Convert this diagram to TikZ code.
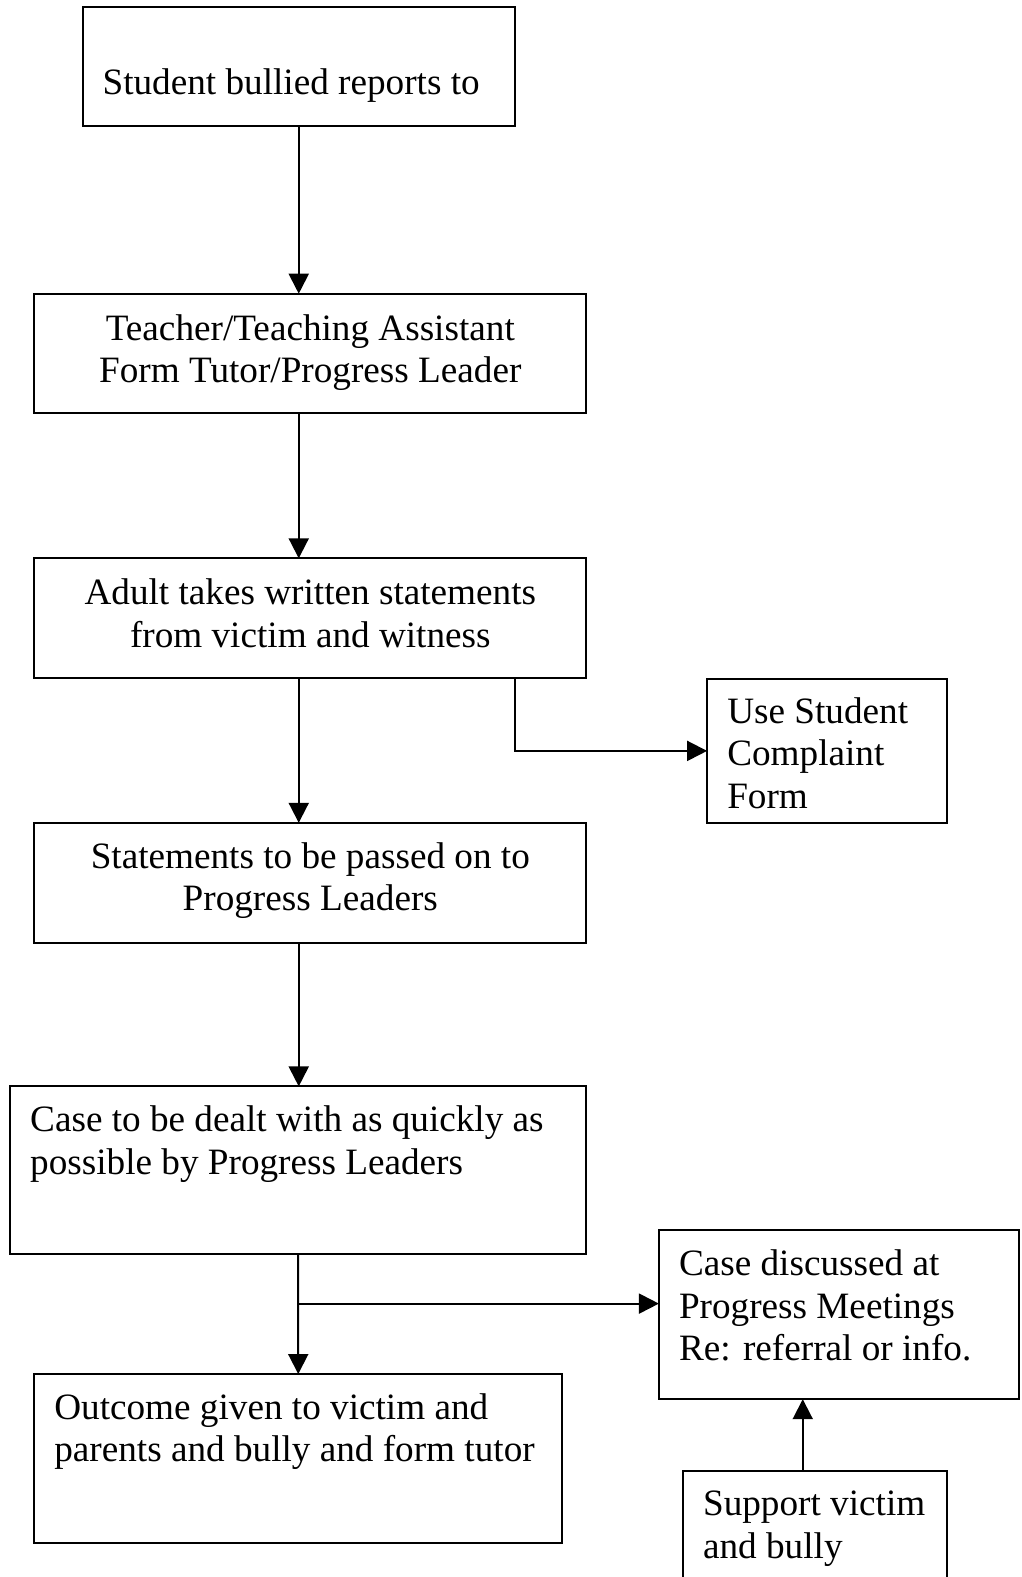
\documentclass[tikz,border=0pt]{standalone}
\usepackage{fontspec}
\setmainfont{Liberation Serif}
\usetikzlibrary{arrows.meta}
\begin{document}
\begin{tikzpicture}[x=1pt,y=-1pt,
  box/.style={draw, line width=2pt, inner sep=0pt, outer sep=0pt, rectangle},
  txt/.style={inner sep=0pt, outer sep=0pt, font=\fontsize{37.2}{42.5}\selectfont},
  arr/.style={line width=2pt, -{Triangle[length=20pt,width=20pt]}}]
\clip (0,0) rectangle (1021,1577);
\fill[white] (0,0) rectangle (1021,1577);
% boxes
\node[box, minimum width=432.5pt, minimum height=118.7pt] (b1) at (298.75,66.35) {};
\node[box, minimum width=552.2pt, minimum height=119.7pt] (b2) at (310.3,353.55) {};
\node[box, minimum width=552.2pt, minimum height=119.7pt] (b3) at (310.3,618.15) {};
\node[box, minimum width=239.4pt, minimum height=143.8pt] (b4) at (826.8,750.9) {};
\node[box, minimum width=552.2pt, minimum height=119.7pt] (b5) at (310.3,882.65) {};
\node[box, minimum width=576.4pt, minimum height=168pt] (b6) at (298.2,1170.4) {};
\node[box, minimum width=360.1pt, minimum height=169pt] (b7) at (838.95,1314.7) {};
\node[box, minimum width=528.1pt, minimum height=169pt] (b8) at (298.25,1458.5) {};
\node[box, minimum width=263.5pt, minimum height=179.4pt] (b9) at (814.75,1560.3) {};
% texts
\node[txt, anchor=base west] (t1) at (102.6,94) {Student bullied reports to};
\node[txt, anchor=base] (t2a) at (310.3,340) {Teacher/Teaching Assistant};
\node[txt, anchor=base] (t2b) at (310.3,382.5) {Form Tutor/Progress Leader};
\node[txt, anchor=base] (t3a) at (310.3,604.5) {Adult takes written statements};
\node[txt, anchor=base] (t3b) at (310.3,647) {from victim and witness};
\node[txt, anchor=base west] (t4a) at (727.3,723.2) {Use Student};
\node[txt, anchor=base west] (t4b) at (727.3,765.7) {Complaint};
\node[txt, anchor=base west] (t4c) at (727.3,808.2) {Form};
\node[txt, anchor=base] (t5a) at (310.3,868) {Statements to be passed on to};
\node[txt, anchor=base] (t5b) at (310.3,910.5) {Progress Leaders};
\node[txt, anchor=base west] (t6a) at (30.2,1131.6) {Case to be dealt with as quickly as};
\node[txt, anchor=base west] (t6b) at (30.2,1174.1) {possible by Progress Leaders};
\node[txt, anchor=base west] (t7a) at (679,1275.5) {Case discussed at};
\node[txt, anchor=base west] (t7b) at (679,1318) {Progress Meetings};
\node[txt, anchor=base west] (t7c) at (679,1360.5) {Re: referral or info.};
\node[txt, anchor=base west] (t8a) at (54.3,1419.3) {Outcome given to victim and};
\node[txt, anchor=base west] (t8b) at (54.3,1461.8) {parents and bully and form tutor};
\node[txt, anchor=base west] (t9a) at (703.1,1515.9) {Support victim};
\node[txt, anchor=base west] (t9b) at (703.1,1558.4) {and bully};
% connectors
\draw[arr] (b1.south) -- (b1.south |- b2.north);
\draw[arr] (b2.south -| b1.south) -- (b3.north -| b1.south);
\draw[arr] (b3.south -| b1.south) -- (b5.north -| b1.south);
\draw[arr] (b3.south -| b1.east) |- (b4.west);
\draw[arr] (b5.south -| b1.south) -- (b6.north -| b1.south);
\draw[arr] (b6.south) -- (b8.north);
\coordinate (j) at (298.2,1303.6);
\draw[arr] (j) -- (j -| b7.west);
\draw[arr] ([xshift=-12pt]b9.north) -- ([xshift=-12pt]b9.north |- b7.south);
\end{tikzpicture}
\end{document}
